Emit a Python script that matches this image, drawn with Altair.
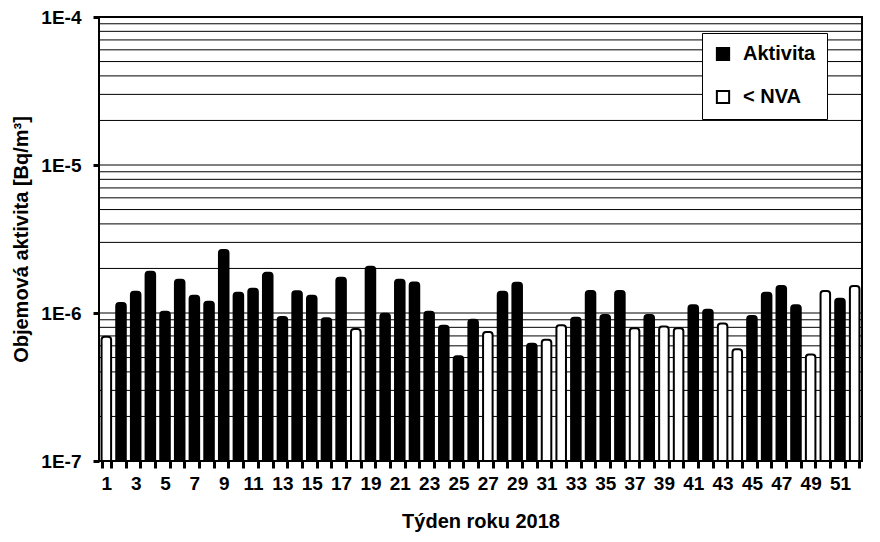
import altair as alt
import pandas as pd

weeks = list(range(1, 53))
values_e6 = [0.69, 1.17, 1.39, 1.90, 1.02, 1.68, 1.31, 1.19, 2.67, 1.37,
             1.46, 1.87, 0.94, 1.40, 1.31, 0.92, 1.73, 0.78, 2.05, 0.99,
             1.68, 1.61, 1.02, 0.82, 0.51, 0.90, 0.745, 1.39, 1.60, 0.62,
             0.66, 0.826, 0.93, 1.41, 0.97, 1.41, 0.79, 0.97, 0.81, 0.79,
             1.13, 1.05, 0.85, 0.57, 0.955, 1.37, 1.52, 1.13, 0.525, 1.41,
             1.25, 1.52]
nva_weeks = [1, 18, 27, 31, 32, 37, 39, 40, 43, 44, 49, 50, 52]
series_names = ["Aktivita", "< NVA"]
y_ticks = [1e-7, 1e-6, 1e-5, 1e-4]
grid_values = [m * 10.0 ** d for d in (-7, -6, -5) for m in range(1, 10)] + [1e-4]

FONT = "Liberation Sans"
Y_TITLE = "Objemová aktivita [Bq/m³]"
TICK = "black"

df = pd.DataFrame({
    "week": weeks,
    "value": [v * 1e-6 for v in values_e6],
    "series": [series_names[1] if w in nva_weeks else series_names[0] for w in weeks],
    "base": [1e-7] * len(weeks),
})
grid_df = pd.DataFrame({"value": grid_values})

yscale = alt.Scale(type="log", domain=[1e-7, 1e-4], clamp=True)
yaxis = alt.Axis(values=y_ticks, tickSize=6, tickColor=TICK, tickWidth=3,
                 tickOpacity=1, ticks=True,
                 domain=False, grid=False, labelPadding=12, titlePadding=9,
                 labelFontSize=19, titleFontSize=20,
                 labelExpr="'1E' + round(log(datum.value) / LN10)")

grid = alt.Chart(grid_df).mark_rule(color="black", strokeWidth=1).encode(
    y=alt.Y("value:Q", scale=yscale, title=Y_TITLE, axis=yaxis)
)

bars = alt.Chart(df).mark_bar(
    stroke="black", strokeWidth=2, cornerRadiusTopLeft=3, cornerRadiusTopRight=3
).encode(
    x=alt.X("week:O", title="Týden roku 2018",
            scale=alt.Scale(paddingInner=0.35, paddingOuter=0.175),
            axis=alt.Axis(labelAngle=0, tickBand="extent", tickSize=7, ticks=True,
                          tickColor=TICK, tickWidth=3, tickOpacity=1,
                          domain=False, labelFontSize=19, titleFontSize=20,
                          labelExpr="datum.value % 2 == 1 ? datum.label : ''",
                          labelPadding=6, titlePadding=18)),
    y=alt.Y("value:Q", scale=yscale, title=Y_TITLE, axis=yaxis),
    y2="base:Q",
    color=alt.Color("series:N",
                    scale=alt.Scale(domain=series_names, range=["black", "white"]),
                    legend=alt.Legend(orient="none", legendX=603, legendY=16,
                                      title=None, symbolType="square",
                                      symbolSize=150, symbolStrokeColor="black",
                                      symbolStrokeWidth=2, labelFontSize=20,
                                      labelFont=FONT, labelFontWeight="bold",
                                      labelColor="black",
                                      labelOffset=10, rowPadding=21, padding=11,
                                      strokeColor="black", fillColor="white")),
)

chart = alt.layer(grid, bars).properties(
    width=763, height=444,
    autosize=alt.AutoSizeParams(type="none"),
    padding={"left": 91, "top": 9, "right": 10, "bottom": 73},
).configure_view(
    stroke="black", strokeWidth=2
).configure_axis(
    labelFont=FONT, labelFontWeight="bold", labelColor="black",
    titleFont=FONT, titleFontWeight="bold", titleColor="black",
)

chart.save("out.html", embed_options={"renderer": "svg", "actions": False})
